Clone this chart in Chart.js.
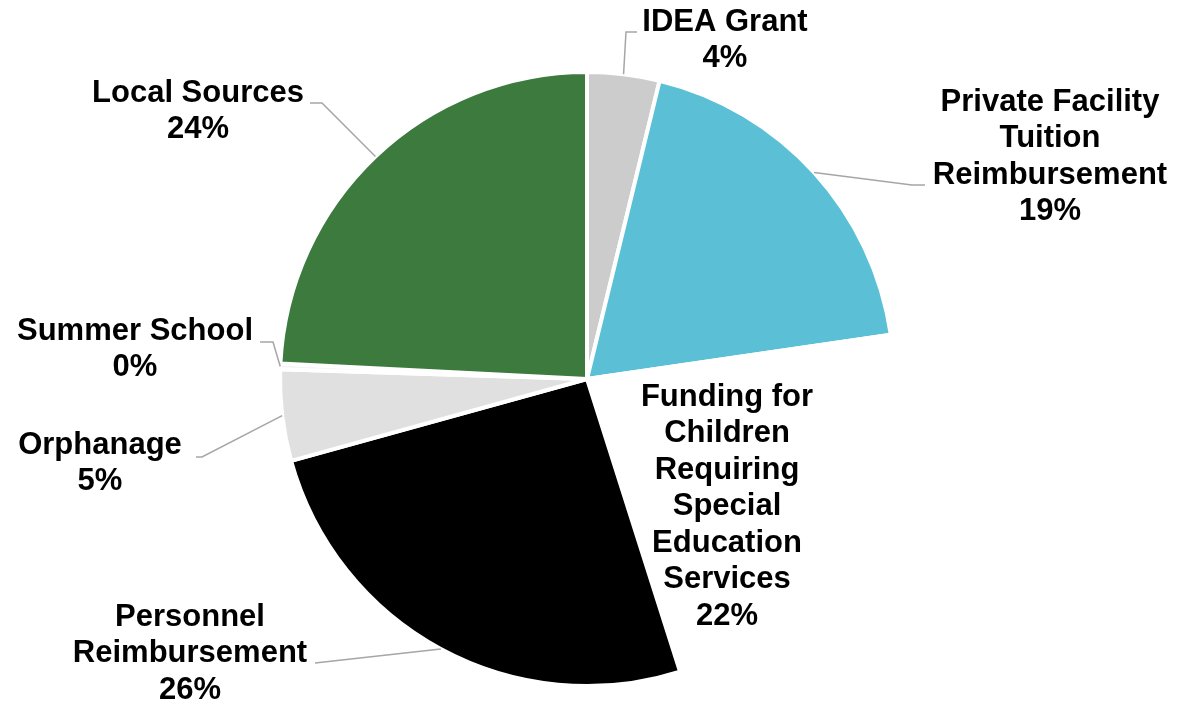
<!DOCTYPE html>
<html>
<head>
<meta charset="utf-8">
<script src="https://cdn.jsdelivr.net/npm/chart.js@4"></script>
<style>
    html, body { margin: 0; padding: 0; background: #fff; }
    #wrap { width: 1177px; height: 704px; position: relative; }
</style>
</head>
<body>
<div id="wrap"><canvas id="revenue-pie"></canvas></div>
<script>
// Revenue sources (share of total, %)
const categories = [
    'IDEA Grant',
    'Private Facility Tuition Reimbursement',
    'Funding for Children Requiring Special Education Services',
    'Personnel Reimbursement',
    'Orphanage',
    'Summer School',
    'Local Sources'
];
const shares = [3.8, 18.9, 22.4, 25.6, 4.8, 0.3, 24.2];
const percentLabels = ['4%', '19%', '22%', '26%', '5%', '0%', '24%'];
const labelLines = [
    ['IDEA Grant'],
    ['Private Facility', 'Tuition', 'Reimbursement'],
    ['Funding for', 'Children', 'Requiring', 'Special', 'Education', 'Services'],
    ['Personnel', 'Reimbursement'],
    ['Orphanage'],
    ['Summer School'],
    ['Local Sources']
];
const sliceColors = ['#cccccc', '#5bc0d6', '#ffffff', '#000000', '#e0e0e0', '#f4f4f4', '#3c7a3e'];

// label placement relative to the pie centre (text centre of first line, leader elbow and end)
const labelLayout = [
    { x: 138, y: -357, elbow: [39, -347], end: [50, -347] },
    { x: 463, y: -277, elbow: [325, -194], end: [338, -194] },
    { x: 140, y: 18 },
    { x: -397, y: 238, elbow: [-272, 284], end: [-272, 284] },
    { x: -487, y: 66, elbow: [-385, 78], end: [-391, 78] },
    { x: -452, y: -48, elbow: [-314, -37], end: [-327, -37] },
    { x: -389, y: -286, elbow: [-265, -276], end: [-277, -276] }
];

const outsideLabels = {
    id: 'outsideLabels',
    afterDraw(chart) {
        const ctx = chart.ctx;
        const arcs = chart.getDatasetMeta(0).data;
        ctx.save();
        arcs.forEach(function(arc, i) {
            const lay = labelLayout[i];
            const cx = arc.x, cy = arc.y;
            const mid = (arc.startAngle + arc.endAngle) / 2;
            if (lay.elbow) {
                const r = arc.outerRadius;
                ctx.beginPath();
                ctx.strokeStyle = '#a6a6a6';
                ctx.lineWidth = 1.5;
                ctx.moveTo(cx + Math.cos(mid) * r, cy + Math.sin(mid) * r);
                ctx.lineTo(cx + lay.elbow[0], cy + lay.elbow[1]);
                ctx.lineTo(cx + lay.end[0], cy + lay.end[1]);
                ctx.stroke();
            }
            const lines = labelLines[i].concat([percentLabels[i]]);
            ctx.fillStyle = '#000';
            ctx.font = 'bold 31px "Liberation Sans", Arial, sans-serif';
            ctx.textAlign = 'center';
            ctx.textBaseline = 'middle';
            lines.forEach(function(t, k) {
                ctx.fillText(t, cx + lay.x, cy + lay.y + k * 36.5);
            });
        });
        ctx.restore();
    }
};

new Chart(document.getElementById('revenue-pie').getContext('2d'), {
    type: 'pie',
    data: {
        labels: categories,
        datasets: [{
            data: shares,
            backgroundColor: sliceColors,
            borderColor: '#ffffff',
            borderWidth: 4
        }]
    },
    options: {
        responsive: true,
        maintainAspectRatio: false,
        animation: false,
        layout: {
            padding: { top: 70, bottom: 16, left: 0, right: 3 }
        },
        plugins: {
            legend: { display: false },
            tooltip: { enabled: false }
        }
    },
    plugins: [outsideLabels]
});
</script>
</body>
</html>
